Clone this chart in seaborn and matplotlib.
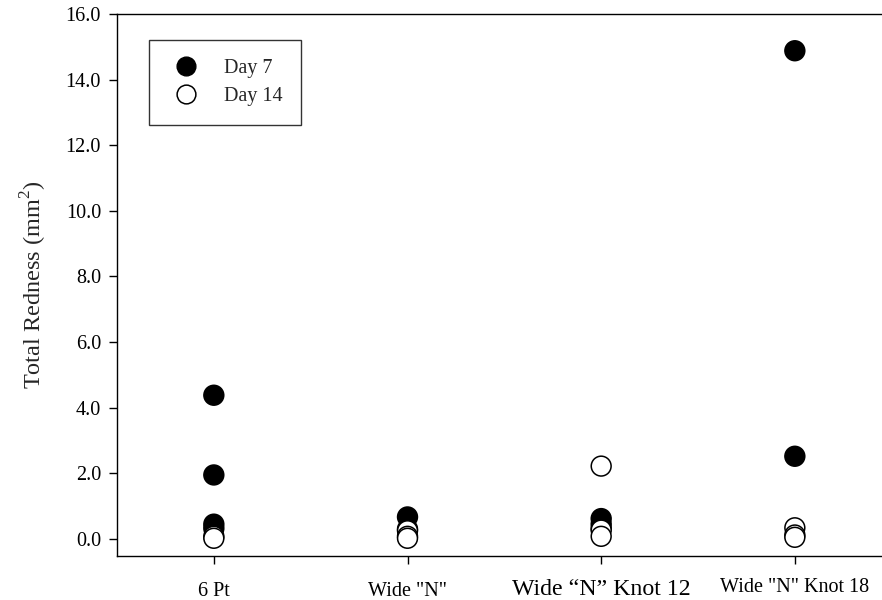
import matplotlib
matplotlib.use("Agg")
import matplotlib.pyplot as plt
import seaborn as sns
import pandas as pd
from matplotlib.lines import Line2D

categories = ['6 Pt', 'Wide "N"', 'Wide \u201cN\u201d Knot 12', 'Wide "N" Knot 18']
day7 = {
    categories[0]: [4.38, 1.95, 0.45, 0.32],
    categories[1]: [0.67, 0.30],
    categories[2]: [0.62, 0.45, 0.32],
    categories[3]: [14.88, 2.52],
}
day14 = {
    categories[0]: [0.08, 0.02],
    categories[1]: [0.25, 0.08, 0.02],
    categories[2]: [2.22, 0.27, 0.08],
    categories[3]: [0.34, 0.12, 0.05],
}
yticks = [0, 2, 4, 6, 8, 10, 12, 14, 16]

rows = []
for day, d in (("Day 7", day7), ("Day 14", day14)):
    for c in categories:
        for v in d[c]:
            rows.append({"cat": c, "val": v, "day": day})
df = pd.DataFrame(rows)

sns.set_style("ticks")
plt.rcParams['font.family'] = ['Liberation Serif', 'DejaVu Serif']
plt.rcParams['mathtext.fontset'] = 'custom'
plt.rcParams['mathtext.rm'] = 'Liberation Serif'

fig = plt.figure(figsize=(8.82, 6.0), dpi=100)
ax = fig.add_axes([117/882, 44/600, 765/882, 542/600])

sns.stripplot(data=df, x="cat", y="val", hue="day", order=categories,
              hue_order=["Day 7", "Day 14"],
              palette={"Day 7": "black", "Day 14": "white"},
              jitter=False, dodge=False, size=14.3, linewidth=1.1,
              edgecolor="black", ax=ax, legend=False, zorder=3)

ax.set_xlim(-0.5, 3.45)
ax.set_ylim(-0.52, 16.0)
ax.set_yticks(yticks)
ax.set_yticklabels([f"{t:.1f}" for t in yticks], fontsize=14.5)
ax.set_xlabel("")
ax.set_ylabel("Total Redness (mm$^2$)", fontsize=17.5, labelpad=12)
ax.tick_params(axis='both', direction='out', length=6, width=1, colors='black')
ax.tick_params(axis='y', pad=5.5)
ax.tick_params(axis='x', pad=12.5)
xl = ax.get_xticklabels()
for lbl in xl:
    lbl.set_fontsize(14.5)
xl[2].set_fontsize(17.2)
xl[2].set_y(0.005)
xl[3].set_y(0.0075)

for s in ['left', 'bottom', 'top']:
    ax.spines[s].set_linewidth(1.0)
    ax.spines[s].set_color('black')
ax.spines['right'].set_visible(False)

handles = [
    Line2D([], [], marker='o', linestyle='none', markersize=13.5,
           markerfacecolor='black', markeredgecolor='black', label='Day 7'),
    Line2D([], [], marker='o', linestyle='none', markersize=13.5,
           markerfacecolor='white', markeredgecolor='black', markeredgewidth=1.1, label='Day 14'),
]
leg = ax.legend(handles=handles, loc='upper left', bbox_to_anchor=(0.042, 0.952),
                frameon=True, fancybox=False, edgecolor='black', fontsize=14.5,
                borderpad=0.95, labelspacing=0.42, handletextpad=0.95,
                borderaxespad=0, handlelength=1.8)
leg.get_frame().set_linewidth(1.0)
leg.get_frame().set_boxstyle('square', pad=0)

fig.savefig("out.png", dpi=100)
